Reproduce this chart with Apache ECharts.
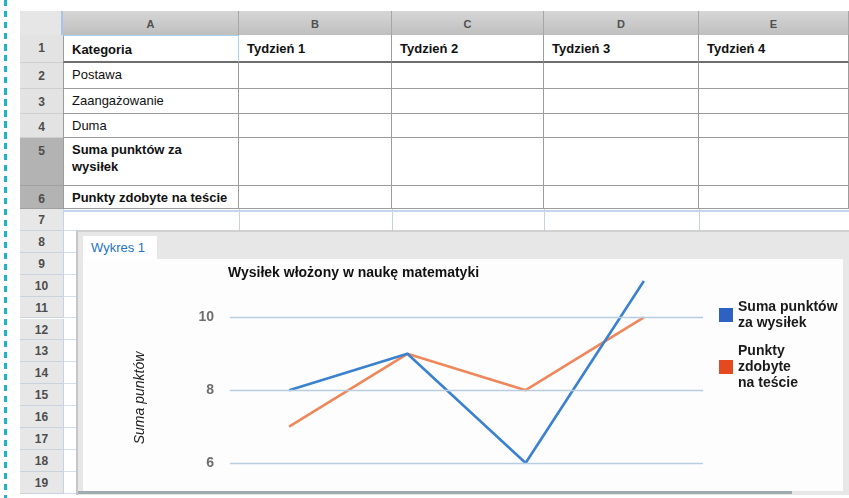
<!DOCTYPE html>
<html><head><meta charset="utf-8">
<script src="https://cdn.jsdelivr.net/npm/echarts@6/dist/echarts.min.js"></script>
<style>
body{margin:0;width:849px;height:498px;overflow:hidden;background:#fff;font-family:"Liberation Sans",Arial,sans-serif;position:relative}
.a{position:absolute;box-sizing:border-box;white-space:nowrap;overflow:hidden}
</style></head><body>
<div id="sheet"></div>
<div id="chart" class="a" style="left:0;top:0;width:849px;height:498px;z-index:10;overflow:visible"></div>
<script>
// ---- data ----
const categories = ['Tydzień 1', 'Tydzień 2', 'Tydzień 3', 'Tydzień 4'];
const effortPoints = [8, 9, 6, 11];
const testPoints = [7, 9, 8, 10];
const yTicks = [6, 8, 10];
const seriesNames = ['Suma punktów za wysiłek', 'Punkty zdobyte na teście'];
const legendLabels = ['Suma punktów\nza wysiłek', 'Punkty\nzdobyte\nna teście'];
const colLetters = ['A', 'B', 'C', 'D', 'E'];
const headerRow = ['Kategoria'].concat(categories);
const rowLabels = ['Postawa', 'Zaangażowanie', 'Duma', 'Suma punktów za<br>wysiłek', 'Punkty zdobyte na teście'];
const chartTitle = 'Wysiłek włożony w naukę matematyki';
const yAxisTitle = 'Suma punktów';
const tabLabel = 'Wykres 1';

// ---- spreadsheet backdrop ----
const sheet = document.getElementById('sheet');
function box(l, t, w, h, css, html) {
  const d = document.createElement('div');
  d.className = 'a';
  d.style.cssText = `left:${l}px;top:${t}px;width:${w}px;height:${h}px;` + (css || '');
  if (html) d.innerHTML = html;
  sheet.appendChild(d);
  return d;
}
// dashed margin line
box(4, 0, 3, 498, 'background:repeating-linear-gradient(to bottom,#1bb4c9 0 6.5px,transparent 6.5px 11px);');
const colX = [63, 239, 392, 544, 699, 849];
const rowY = [35, 63, 89, 114, 138, 186, 209];
// corner
box(20, 11, 43, 24, 'background:#e6e6e6;border-right:2px solid #a9c4e4;');
// column headers
colLetters.forEach((c, i) => {
  box(colX[i], 11, colX[i + 1] - colX[i], 24,
    'background:linear-gradient(#d6d6d6,#bfbfbf);border-right:1px solid #a6a6a6;text-align:center;line-height:27px;font-size:11px;font-weight:bold;color:#505050;', c);
});
// rows 1-6
for (let r = 0; r < 6; r++) {
  const t = rowY[r], h = rowY[r + 1] - t;
  const dark = r >= 4;
  box(20, t, 43, h, `background:${dark ? '#b3b3b3' : '#e3e3e3'};border-bottom:1px solid ${dark ? '#a0a0a0' : '#cfcfcf'};text-align:center;line-height:26px;font-size:12px;font-weight:bold;color:#4d4d4d;`, String(r + 1));
  for (let c = 0; c < 5; c++) {
    let txt = '';
    let css = 'background:#fff;border-right:1px solid #9c9c9c;border-bottom:1px solid #9c9c9c;font-size:13px;color:#111;padding-left:8px;';
    if (r === 0) {
      txt = headerRow[c];
      css += 'font-weight:bold;line-height:27px;border-bottom:2px solid #6f6f6f;';
      if (c === 0) css += 'border:1px solid #a6d3f0;border-bottom:2px solid #6f6f6f;';
    } else if (c === 0) {
      txt = rowLabels[r - 1];
      if (r >= 4) css += 'font-weight:bold;';
      css += r === 4 ? 'line-height:17px;padding-top:3px;' : 'line-height:24px;';
    }
    if (c === 0) css += 'border-left:1px solid #9c9c9c;';
    box(colX[c], t, colX[c + 1] - colX[c], h, css, txt);
  }
}
// rows 7-19
const rowH = 21.9;
for (let r = 0; r < 13; r++) {
  const t = 209 + r * rowH;
  box(20, t, 43, rowH, 'background:#e7e7e7;border-bottom:1px solid #c8d3de;text-align:center;line-height:23px;font-size:12px;font-weight:bold;color:#4d4d4d;', String(r + 7));
  box(63, t, 786, rowH, 'background:#fff;border-bottom:1px solid #d3dfea;border-left:1px solid #c6d4e2;');
}
for (let c = 1; c < 5; c++) box(colX[c], 209, 1, 22, 'background:#c4d2e0;');
box(63, 210, 786, 2, 'background:#c3d6ec;');
// chart frame
box(76, 230, 773, 265, 'background:#e6e7e6;border-left:2px solid #c6c6c6;border-top:2px solid #d0d0d0;');
box(83, 236, 74, 24, 'background:#fff;font-size:13px;color:#2673c4;padding-left:8px;line-height:24px;', tabLabel);
box(83, 259, 760, 232, 'background:#fdfdfe;');
box(78, 491, 714, 3, 'background:#9eabb3;');

// ---- chart ----
const FF = '"Liberation Sans", Arial, sans-serif';
const chart = echarts.init(document.getElementById('chart'), null, { renderer: 'canvas' });
chart.setOption({
  backgroundColor: 'transparent',
  animation: false,
  textStyle: { fontFamily: FF },
  title: {
    text: chartTitle, left: 228, top: 266, padding: 0,
    textStyle: { fontSize: 14, fontWeight: 'bold', color: '#111', fontFamily: FF }
  },
  grid: { left: 230, right: 146, top: 281, bottom: 35 },
  xAxis: { type: 'category', data: categories, boundaryGap: true, show: false },
  yAxis: {
    type: 'value', min: 6, max: 11, interval: 2,
    axisLine: { show: false }, axisTick: { show: false }, splitLine: { show: false },
    axisLabel: {
      margin: 16, fontSize: 14, fontWeight: 'bold', color: '#6e6e6e', fontFamily: FF,
      formatter: v => (yTicks.indexOf(v) >= 0 ? String(v) : '')
    }
  },
  legend: {
    orient: 'vertical', left: 719, top: 299, padding: 0,
    itemWidth: 14, itemHeight: 14, itemGap: 12, icon: 'rect',
    data: [
      { name: seriesNames[0], itemStyle: { color: '#2d62c2' } },
      { name: seriesNames[1], itemStyle: { color: '#e4491f' } }
    ],
    formatter: n => legendLabels[seriesNames.indexOf(n)],
    textStyle: { fontSize: 14, fontWeight: 'bold', color: '#1a1a1a', lineHeight: 16, fontFamily: FF }
  },
  graphic: [{
    type: 'text', x: 140, y: 398, rotation: Math.PI / 2,
    style: { text: yAxisTitle, font: 'italic 14px "Liberation Sans", Arial', fill: '#1e1e1e', textAlign: 'center', textVerticalAlign: 'middle' }
  }],
  series: [
    {
      name: 'grid', type: 'line', data: [], z: 1, silent: true,
      markLine: {
        silent: true, symbol: 'none', label: { show: false },
        lineStyle: { color: '#b8cde0', width: 1.3, type: 'solid' },
        data: yTicks.map(v => ({ yAxis: v }))
      }
    },
    {
      name: seriesNames[0], type: 'line', data: effortPoints, z: 3, clip: false,
      symbol: 'none', lineStyle: { width: 2.6, color: '#3a82cf' }, itemStyle: { color: '#2d62c2' }
    },
    {
      name: seriesNames[1], type: 'line', data: testPoints, z: 2, clip: false,
      symbol: 'none', lineStyle: { width: 2.6, color: '#f0875a' }, itemStyle: { color: '#e4491f' }
    }
  ]
});
</script>
</body></html>
